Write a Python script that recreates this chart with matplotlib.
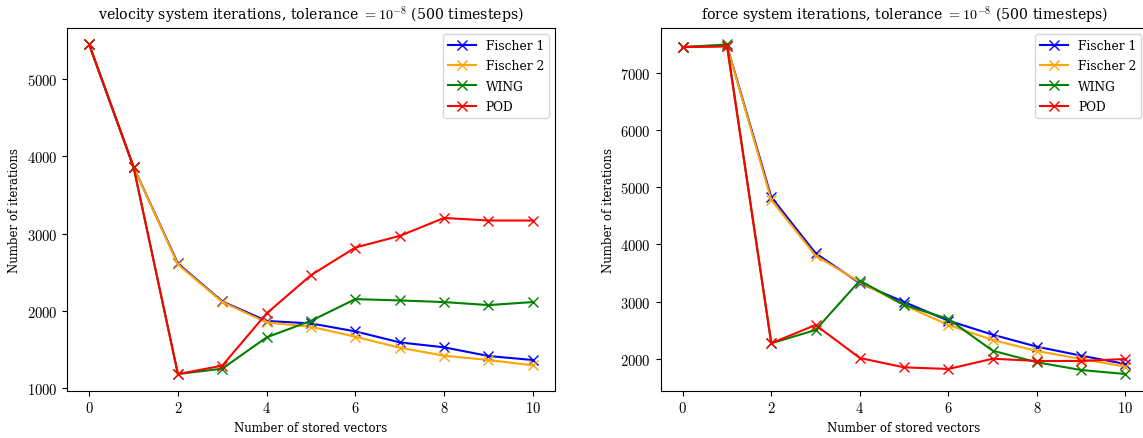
import matplotlib
matplotlib.use("Agg")
import matplotlib.pyplot as plt
from matplotlib.ticker import FuncFormatter

plt.rcParams['font.family'] = ['DejaVu Serif']
plt.rcParams['mathtext.fontset'] = 'cm'

n_vectors = list(range(11))
labels = ["Fischer 1", "Fischer 2", "WING", "POD"]
colors = ["blue", "orange", "green", "red"]

# velocity system
vel_fischer1 = [5443, 3860, 2613, 2122, 1870, 1838, 1735, 1593, 1529, 1417, 1365]
vel_fischer2 = [5443, 3860, 2600, 2115, 1850, 1795, 1666, 1524, 1421, 1365, 1297]
vel_wing = [5443, 3860, 1184, 1253, 1658, 1872, 2152, 2135, 2114, 2075, 2114]
vel_pod = [5443, 3860, 1184, 1292, 1968, 2462, 2819, 2969, 3201, 3168, 3168]

# force system
force_fischer1 = [7450, 7475, 4825, 3845, 3320, 2992, 2665, 2420, 2210, 2053, 1907]
force_fischer2 = [7450, 7470, 4778, 3803, 3340, 2935, 2590, 2327, 2135, 1995, 1860]
force_wing = [7450, 7496, 2270, 2502, 3366, 2940, 2695, 2140, 1937, 1802, 1732]
force_pod = [7450, 7461, 2270, 2590, 2012, 1849, 1820, 2000, 1960, 1960, 1995]

fig = plt.figure(figsize=(11.43, 4.39), dpi=100)
ax1 = fig.add_axes([67 / 1143, 47.5 / 439, 488 / 1143, 362.5 / 439])
ax2 = fig.add_axes([660.6 / 1143, 47.5 / 439, 487 / 1143, 362.5 / 439])

mathfmt = FuncFormatter(lambda v, pos: f"${v:g}$")

for ax, series, name in [
    (ax1, [vel_fischer1, vel_fischer2, vel_wing, vel_pod], "velocity"),
    (ax2, [force_fischer1, force_fischer2, force_wing, force_pod], "force"),
]:
    for vals, lab, c in zip(series, labels, colors):
        ax.plot(n_vectors, vals, color=c, marker="x", markersize=6.5, label=lab)
    ax.set_title(name + r" system iterations, tolerance $= 10^{-8}$ (500 timesteps)",
                 fontsize=10.2, pad=7)
    ax.set_xlabel("Number of stored vectors", fontsize=8.5)
    ax.set_ylabel("Number of iterations", fontsize=8.5)
    ax.set_xticks([0, 2, 4, 6, 8, 10])
    ax.xaxis.set_major_formatter(mathfmt)
    ax.yaxis.set_major_formatter(mathfmt)
    ax.tick_params(labelsize=10.5)
    ax.legend(loc="upper right", fontsize=8.8, handlelength=2.3, labelspacing=0.6)

fig.savefig("out.png", dpi=100)
